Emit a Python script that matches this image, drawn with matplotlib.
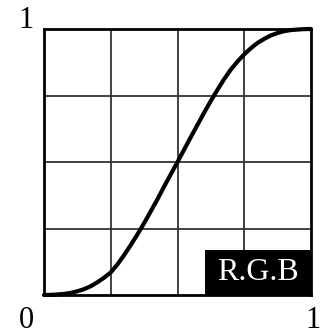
import matplotlib.pyplot as plt
from matplotlib.patches import Rectangle

# tone curve samples (input -> output)
curve_in = [0, .025, .05, .075, .1, .125, .15, .175, .2, .225, .25,
            .275, .3, .325, .35, .375, .4, .425, .45, .475, .5,
            .525, .55, .575, .6, .625, .65, .675, .7, .725, .75,
            .775, .8, .825, .85, .875, .9, .925, .95, .975, 1]
curve_out = [0, .0005, .002, .004, .008, .014, .022, .033, .048, .065, .085,
             .115, .15, .188, .228, .27, .315, .36, .408, .454, .5,
             .547, .594, .64, .686, .73, .772, .812, .848, .878, .905,
             .928, .948, .963, .976, .985, .992, .996, .998, .9995, 1]
grid_ticks = [0, .25, .5, .75, 1]
channel_label = 'R.G.B'

fig = plt.figure(figsize=(3.22, 3.36), dpi=100)
ax = fig.add_axes([44 / 322, 41 / 336, 267 / 322, 266 / 336])

# 4x4 grid
for t in grid_ticks[1:-1]:
    ax.axvline(t, color='#333333', lw=1.3, zorder=1)
    ax.axhline(t, color='#333333', lw=1.3, zorder=1)

ax.plot(curve_in, curve_out, color='black', lw=3, solid_capstyle='round',
        solid_joinstyle='round', zorder=4, clip_on=False)

# channel tag in the lower right corner
ax.add_patch(Rectangle((0.603, 0), 0.397, 0.169, transform=ax.transAxes,
                       facecolor='black', edgecolor='none', zorder=3))
ax.text(0.80, 0.083, channel_label, transform=ax.transAxes, color='white',
        fontsize=23, family='Liberation Serif', ha='center', va='center', zorder=5)

ax.set_xlim(0, 1)
ax.set_ylim(0, 1)
ax.set_xticks([])
ax.set_yticks([])
for s in ax.spines.values():
    s.set_linewidth(2)
    s.set_color('black')

# corner values
fig.text(26 / 322, 1 - 21 / 336, '1', fontsize=22, family='Liberation Serif',
         ha='center', va='center')
fig.text(26 / 322, 1 - 321 / 336, '0', fontsize=22, family='Liberation Serif',
         ha='center', va='center')
fig.text(313 / 322, 1 - 320 / 336, '1', fontsize=22, family='Liberation Serif',
         ha='center', va='center')

fig.savefig('out.png', dpi=100)
